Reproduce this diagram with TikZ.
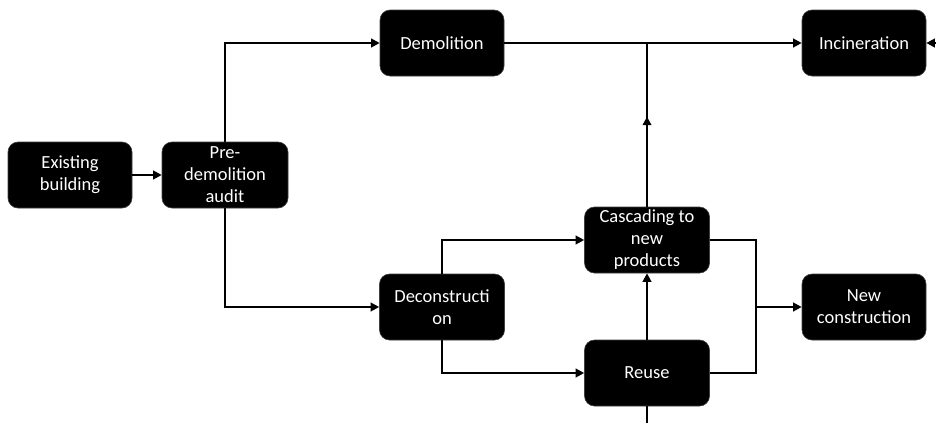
\documentclass[tikz,border=0pt]{standalone}
\usepackage{fontspec}
\setmainfont{Carlito}
\usetikzlibrary{arrows.meta,decorations.markings}
\begin{document}
\begin{tikzpicture}[x=1pt,y=-1pt,
  box/.style={fill=black,draw=black!75,line width=0.6pt,rounded corners=10pt,
    minimum width=124pt,minimum height=66pt,text=white,align=center,
    font=\fontsize{18.5}{22}\selectfont,inner sep=2pt},
  link/.style={line width=2.7pt,draw=black},
  arr/.style={link,-{Triangle[length=8.5pt,width=8.5pt]}},
  midarrow/.style={link,postaction={decorate},decoration={markings,
    mark=at position #1 with {\arrow{Triangle[length=8.5pt,width=8.5pt]}}}}]
\useasboundingbox (0,0) rectangle (936,423);
\fill[white] (0,0) rectangle (936,423);

% process steps
\node[box] (exist) at (70,175) {Existing\\building};
\node[box,minimum width=126pt] (audit) at (225,175) {Pre-\\demolition\\audit};
\node[box] (demol) at (442,43) {Demolition};
\node[box] (incin) at (864,43) {Incineration};
\node[box,minimum width=125pt] (decon) at (442,307) {Deconstructi\\on};
\node[box,minimum width=125pt] (casc) at (647,240) {Cascading to\\new\\products};
\node[box,minimum width=125pt] (reuse) at (647,373) {Reuse};
\node[box] (newc) at (864,307) {New\\construction};

% free ends and junctions
\coordinate (inR) at (936,43);
\coordinate (inB) at (647,423);
\coordinate (join) at (647,43);
\coordinate (split) at (756,307);

% connectors
\draw[arr] (exist) -- (audit);
\draw[arr] (audit.north) |- (demol.west);
\draw[arr] (audit.south) |- (decon.west);
\draw[arr] (demol) -- (incin);
\draw[arr] (inR) -- (incin.east);
\draw[midarrow=0.55] (casc.north) -- (join);
\draw[arr] (decon.north) |- (casc.west);
\draw[arr] (decon.south) |- (reuse.west);
\draw[arr] (reuse.north) -- (casc.south);
\draw[link] (inB) -- (reuse.south);
\draw[link] (casc.east) -| (split) |- (reuse.east);
\draw[arr] (split) -- (newc.west);
\end{tikzpicture}
\end{document}
